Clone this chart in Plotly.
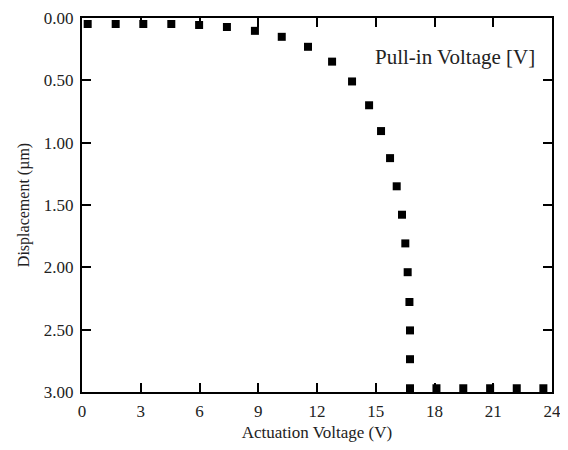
import plotly.graph_objects as go

voltage = [0.29, 1.72, 3.13, 4.56, 5.98, 7.40, 8.83, 10.20, 11.54, 12.77, 13.79, 14.66,
           15.27, 15.73, 16.07, 16.34, 16.51, 16.63, 16.72, 16.75, 16.75, 16.75,
           18.10, 19.47, 20.84, 22.20, 23.56]
displacement = [0.048, 0.048, 0.048, 0.048, 0.056, 0.072, 0.103, 0.151, 0.231, 0.350,
                0.509, 0.700, 0.907, 1.124, 1.350, 1.578, 1.808, 2.039, 2.278, 2.506,
                2.737, 2.970, 2.970, 2.970, 2.970, 2.970, 2.970]

font_family = "Liberation Serif, Times New Roman, serif"

fig = go.Figure()
fig.add_trace(go.Scatter(
    x=voltage, y=displacement, mode="markers",
    marker=dict(symbol="square", size=8, color="black"),
    showlegend=False,
))

axis_common = dict(
    showline=True, linecolor="black", linewidth=2, mirror="ticks",
    ticks="inside", ticklen=9, tickwidth=2, tickcolor="black",
    showgrid=False, zeroline=False, automargin=False,
    ticklabeloverflow="allow", ticklabelstandoff=3,
    tickfont=dict(family=font_family, size=17, color="#222"),
)

fig.update_xaxes(range=[0, 24], dtick=3, tick0=0,
                 title=dict(text="Actuation Voltage (V)", font=dict(family=font_family, size=17, color="#222"), standoff=16),
                 **axis_common)
fig.update_yaxes(range=[3, 0], dtick=0.5, tick0=0, tickformat=".2f",
                 title=dict(text="Displacement (µm)", font=dict(family=font_family, size=16, color="#222"), standoff=10),
                 **axis_common)

fig.add_annotation(text="Pull-in Voltage [V]", xref="paper", yref="paper",
                   x=0.968, y=0.897, xanchor="right", yanchor="middle", showarrow=False,
                   font=dict(family=font_family, size=21, color="#222"))

fig.update_layout(
    width=552, height=434,
    margin=dict(l=74, r=8, t=10, b=50),
    plot_bgcolor="white", paper_bgcolor="white",
)

fig.write_html("out.html")
